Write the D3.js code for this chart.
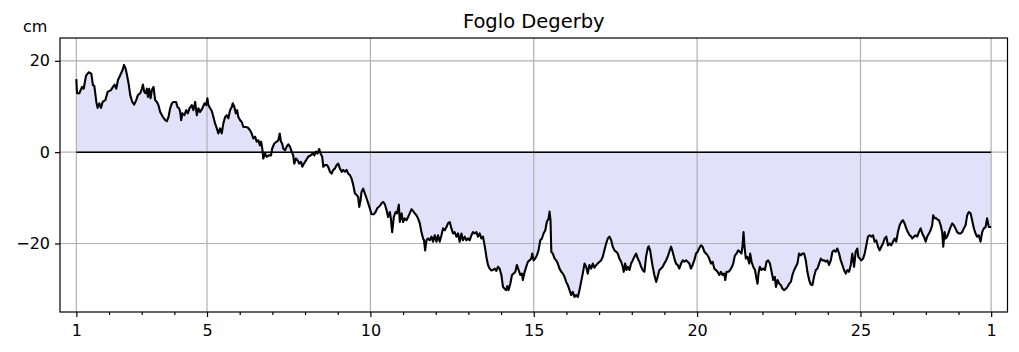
<!DOCTYPE html>
<html><head><meta charset="utf-8">
<script src="https://cdn.jsdelivr.net/npm/d3@7"></script>
<style>
body{margin:0;background:#fff}
svg{display:block}
text{font-family:"DejaVu Sans",sans-serif;fill:#000}
</style>
</head><body>
<svg id="chart" width="1019" height="352"></svg>
<script>
const chartTitle = "Foglo Degerby";
const unitLabel = "cm";
// hours since the 1st of the month, 00:00
const hours = [
0,0.5,2.2,4.2,5.4,7.1,9.0,11.0,12.2,13.2,
14.7,15.6,16.9,18.1,19.3,21.3,23.0,25.4,26.9,28.1,
29.3,30.6,32.3,34.0,35.0,36.2,37.2,38.4,39.6,41.1,
42.5,44.0,45.2,46.9,48.2,48.9,49.9,50.8,51.8,52.6,
53.5,54.5,55.5,56.7,57.9,59.2,60.3,61.6,63.6,65.3,
66.5,67.7,68.9,70.2,71.3,73.3,74.3,75.5,76.3,77.0,
77.9,79.4,80.7,81.9,83.1,84.8,86.0,87.3,88.5,89.7,
90.9,92.6,94.1,95.3,96.3,97.0,98.3,99.5,100.7,101.9,
103.2,104.3,105.6,106.8,108.0,109.3,110.5,111.7,112.9,114.2,
114.9,116.1,117.1,118.1,119.0,120.3,121.5,122.7,124.4,125.9,
127.6,128.8,130.0,131.3,132.5,133.7,134.9,135.7,136.6,137.3,
138.6,139.8,141.5,143.0,143.9,145.4,147.2,148.4,149.4,150.3,
151.2,152.0,153.3,154.5,155.7,156.9,158.2,159.3,160.1,161.3,
162.6,163.7,165.0,166.0,167.2,168.7,170.3,172.1,173.6,174.8,
176.0,177.2,178.4,179.4,180.6,181.4,182.6,183.9,185.0,186.3,
187.5,188.7,189.9,191.2,192.4,193.6,194.9,196.0,197.3,198.5,
199.7,200.9,202.2,203.4,204.6,205.9,207.0,207.8,208.8,209.5,
210.7,211.9,213.2,214.4,215.6,216.8,218.5,219.8,221.0,222.9,
224.2,225.3,226.6,227.9,229.0,230.3,231.0,232.0,233.2,234.5,
235.6,236.9,237.6,238.9,240.0,241.3,242.5,243.7,244.9,246.2,
247.4,248.6,249.8,251.0,252.3,253.5,254.7,255.4,256.2,257.2,
258.4,259.6,260.9,262.0,263.3,264.5,265.7,266.9,268.2,269.4,
270.6,271.9,273.0,274.3,275.5,276.7,277.9,279.2,280.4,281.6,
282.9,284.0,285.3,286.5,287.7,288.9,290.2,291.4,292.6,293.9,
295.0,296.3,297.5,298.7,299.4,300.5,301.4,302.4,303.6,304.9,
306.0,307.3,308.5,309.7,310.9,312.2,313.4,314.6,315.8,316.6,
317.5,318.8,320.0,321.2,322.5,323.6,324.9,326.1,327.3,328.0,
329.3,330.5,331.7,332.9,334.2,334.9,335.9,337.1,338.3,339.5,
340.8,342.0,343.2,344.5,345.6,346.9,347.6,348.3,348.9,350.0,
351.3,352.5,353.7,354.9,356.2,357.4,358.6,359.8,361.0,362.3,
363.5,364.7,365.9,367.2,368.4,369.6,370.8,372.0,373.3,374.5,
375.7,376.9,378.2,379.4,380.6,381.9,383.0,384.3,385.5,386.7,
387.9,389.2,390.4,391.6,392.9,394.0,395.3,396.5,397.7,398.9,
400.2,401.4,402.1,403.1,404.1,405.0,406.3,407.5,408.7,409.9,
411.2,412.4,413.6,414.9,416.0,417.3,418.5,419.7,420.4,421.5,
422.2,423.4,424.6,425.9,427.0,428.3,429.5,430.7,431.9,433.2,
434.4,435.6,436.9,438.0,439.3,440.5,441.7,442.9,444.2,445.4,
446.6,447.9,449.0,450.3,451.5,452.7,453.9,455.2,456.4,457.6,
458.9,460.0,461.3,462.5,463.7,464.9,466.2,467.4,468.6,469.8,
471.0,472.3,473.5,474.7,475.9,476.7,477.6,479.1,480.3,481.6,
482.5,483.8,485.0,486.2,487.4,488.6,489.4,490.1,490.8,491.8,
493.0,494.3,495.0,496.0,497.2,498.5,499.6,500.4,501.1,502.1,
503.3,504.6,505.8,507.0,508.2,509.5,510.7,511.9,513.1,513.9,
515.1,516.3,517.5,518.7,519.9,521.2,522.4,523.6,524.9,526.0,
527.3,528.5,529.7,530.9,532.2,533.4,534.6,535.9,537.0,538.3,
539.5,540.7,541.9,543.2,544.4,545.6,546.9,548.0,549.3,550.5,
551.7,552.9,554.2,555.4,556.6,557.8,559.0,560.3,561.5,562.7,
563.9,565.2,566.4,567.6,568.9,570.0,571.3,572.5,573.7,574.4,
575.5,576.6,577.9,579.1,580.3,581.5,582.8,584.0,585.2,586.4,
587.6,588.9,590.1,591.3,592.5,593.8,595.0,596.2,597.4,598.6,
599.9,601.1,602.3,603.5,604.8,606.0,607.2,608.4,609.6,610.8,
612.1,613.3,614.0,615.3,616.5,617.7,618.9,620.2,621.4,622.6,
623.9,625.0,626.3,627.5,628.7,629.4,630.5,631.4,632.4,633.6,
634.9,636.0,636.8,637.8,638.7,639.7,640.9,642.2,643.4,644.6,
645.8,647.0,648.3,649.5,650.7,651.9,653.2,654.4,655.6,656.9,
658.0,659.3,660.5,661.7,662.9,664.2,665.4,666.6,667.9,669.0,
670.3,672
];
const levelCm = [
16.0,12.9,12.9,14.3,13.9,16.7,17.5,17.2,14.7,14.5,
11.0,9.7,10.7,9.7,11.0,11.4,13.2,13.6,14.3,14.8,
13.9,15.8,16.9,18.0,19.1,18.3,16.9,15.0,12.5,11.0,
10.4,11.4,12.5,12.9,13.9,14.8,13.2,12.9,13.9,12.1,
13.9,11.8,13.6,14.3,11.4,11.0,10.3,8.8,7.7,7.0,
6.8,7.7,9.6,10.7,11.0,11.0,9.9,9.6,8.8,7.0,
8.5,8.1,9.2,8.5,9.6,10.3,9.2,11.0,8.1,9.6,
8.8,9.6,10.7,10.3,11.8,10.3,9.6,9.0,7.7,6.3,
5.2,4.1,5.2,4.1,6.3,7.7,8.1,7.4,9.2,9.9,
10.7,9.9,8.5,9.2,7.7,7.0,6.6,5.5,5.5,5.4,
4.8,4.1,3.0,3.4,2.3,2.6,1.5,2.3,0.8,-1.4,
-0.3,-1.0,-0.7,-0.7,0.8,1.9,2.3,2.6,4.1,2.3,
1.9,0.8,0.4,1.2,1.7,1.2,0.1,-0.7,-2.5,-1.4,
-1.8,-2.5,-2.1,-3.2,-2.5,-1.8,-1.0,-0.7,-0.3,-0.7,
0.1,-0.3,0.7,-0.3,-1.0,-3.2,-2.8,-2.8,-3.2,-4.3,
-4.7,-3.9,-3.6,-2.8,-2.5,-3.6,-4.3,-3.9,-4.3,-3.9,
-4.7,-5.0,-5.8,-7.2,-9.0,-9.4,-9.8,-12.0,-10.5,-8.7,
-8.0,-9.0,-10.1,-11.2,-12.3,-13.6,-13.6,-13.1,-12.3,-11.8,
-11.2,-10.9,-11.4,-12.7,-14.2,-13.1,-14.5,-17.5,-14.2,-13.1,
-13.4,-11.5,-15.3,-13.4,-15.3,-14.5,-14.9,-14.2,-13.4,-12.5,
-12.9,-13.4,-13.8,-14.5,-15.6,-17.5,-18.9,-19.3,-21.5,-19.3,
-18.9,-19.3,-18.5,-19.6,-18.2,-19.6,-18.2,-19.6,-18.2,-16.7,
-17.1,-16.4,-15.6,-15.3,-16.7,-17.8,-17.5,-18.5,-17.8,-19.6,
-17.8,-19.3,-18.5,-19.3,-18.9,-19.3,-18.2,-17.5,-17.8,-17.5,
-18.5,-17.8,-18.9,-18.5,-19.6,-21.5,-23.3,-24.7,-25.5,-25.9,
-25.8,-25.5,-26.0,-25.1,-25.5,-26.9,-29.5,-29.9,-30.2,-29.3,
-30.2,-28.8,-26.9,-26.6,-26.2,-24.7,-25.8,-26.9,-26.6,-28.0,
-26.2,-25.1,-24.0,-23.7,-23.3,-22.2,-23.7,-23.3,-22.6,-21.5,
-19.3,-18.9,-17.8,-17.1,-15.3,-14.5,-13.0,-14.9,-21.8,-22.2,
-23.3,-23.7,-24.4,-25.5,-26.2,-26.6,-27.3,-28.4,-29.1,-30.2,
-31.3,-30.6,-31.7,-31.3,-31.7,-30.2,-28.4,-26.6,-24.4,-25.1,
-26.6,-24.7,-25.5,-24.4,-25.3,-24.7,-24.4,-24.0,-23.7,-22.9,
-21.5,-20.0,-18.9,-18.5,-19.3,-20.7,-21.5,-21.8,-22.2,-23.3,
-24.0,-25.1,-26.2,-24.4,-25.8,-25.1,-25.8,-24.4,-23.7,-22.9,
-22.2,-23.3,-24.0,-25.1,-25.8,-26.2,-22.9,-21.1,-20.6,-21.5,
-22.9,-25.1,-26.9,-28.4,-27.3,-25.8,-25.5,-25.1,-24.4,-23.7,
-22.9,-21.8,-20.7,-21.8,-23.3,-24.4,-24.7,-25.5,-24.4,-23.7,
-24.0,-23.7,-24.0,-24.4,-25.5,-24.7,-23.7,-22.2,-21.8,-21.0,
-20.4,-20.7,-21.8,-22.2,-22.6,-23.3,-24.4,-24.0,-25.5,-25.8,
-26.2,-26.9,-26.2,-26.9,-26.6,-28.0,-26.2,-26.2,-25.8,-25.1,
-24.4,-22.6,-22.2,-21.5,-21.8,-22.2,-20.4,-17.5,-20.7,-23.3,
-22.9,-24.4,-22.2,-24.0,-25.1,-25.8,-27.7,-28.8,-26.6,-25.1,
-25.8,-25.5,-25.8,-24.0,-23.7,-24.4,-26.2,-28.0,-27.3,-29.5,
-28.0,-28.8,-29.1,-29.9,-30.2,-29.9,-29.5,-28.8,-28.4,-26.9,
-25.8,-25.1,-24.4,-22.2,-22.6,-22.2,-22.2,-23.8,-26.2,-28.0,
-29.0,-29.1,-27.3,-25.8,-25.5,-24.4,-23.3,-23.7,-23.7,-24.0,
-23.7,-24.7,-23.7,-21.8,-21.5,-21.8,-21.1,-22.2,-23.7,-24.7,
-25.8,-26.6,-25.8,-26.2,-24.7,-22.2,-25.1,-21.8,-21.1,-22.9,
-23.3,-23.7,-23.3,-22.2,-20.4,-18.5,-18.2,-18.5,-18.2,-19.6,
-19.3,-20.7,-21.5,-20.7,-20.0,-18.9,-18.5,-20.4,-20.0,-20.4,
-19.6,-18.9,-19.6,-17.5,-16.0,-15.3,-14.9,-15.6,-16.7,-17.5,
-18.2,-18.5,-18.9,-18.5,-18.2,-18.5,-17.5,-16.7,-17.8,-18.5,
-19.6,-18.5,-17.8,-17.1,-16.0,-13.8,-14.5,-14.4,-14.7,-14.9,
-16.0,-17.5,-20.7,-17.5,-18.9,-18.5,-17.5,-16.4,-15.6,-16.0,
-16.7,-17.5,-17.8,-17.8,-17.5,-16.7,-16.0,-13.8,-13.1,-13.4,
-14.9,-16.7,-17.8,-18.5,-18.2,-19.6,-17.5,-16.7,-16.4,-14.5,
-16.4,-16.4
];
const xTickHours = [0, 96, 216, 336, 456, 576, 672];
const xTickLabels = ["1", "5", "10", "15", "20", "25", "1"];
const xMinorHours = d3.range(0, 673, 24);
const yTicks = [-20, 0, 20];
const xDomain = [-12, 684];
const yDomain = [-35, 25];

const n = Math.min(hours.length, levelCm.length);
const data = d3.range(n).map(i => ({h: hours[i], v: levelCm[i]}));

const svg = d3.select("#chart");
const W = 1019, H = 352;
const m = {left: 60, right: 11.5, top: 38, bottom: 40};
const x = d3.scaleLinear().domain(xDomain).range([m.left, W - m.right]);
const y = d3.scaleLinear().domain(yDomain).range([H - m.bottom, m.top]);

const plot = svg.append("g");
plot.append("clipPath").attr("id", "clip").append("rect")
  .attr("x", m.left).attr("y", m.top)
  .attr("width", W - m.left - m.right).attr("height", H - m.top - m.bottom);

// fill between series and zero
plot.append("path").datum(data)
  .attr("clip-path", "url(#clip)")
  .attr("fill", "#e1e1fa")
  .attr("d", d3.area().x(d => x(d.h)).y0(y(0)).y1(d => y(d.v)));

// grid
const grid = plot.append("g").attr("stroke", "#b0b0b0").attr("stroke-width", 1.2);
grid.selectAll(".gx").data(xTickHours).join("line")
  .attr("x1", d => x(d)).attr("x2", d => x(d))
  .attr("y1", m.top).attr("y2", H - m.bottom);
grid.selectAll(".gy").data(yTicks).join("line")
  .attr("x1", m.left).attr("x2", W - m.right)
  .attr("y1", d => y(d)).attr("y2", d => y(d));

// zero line across the data span
plot.append("line")
  .attr("x1", x(hours[0])).attr("x2", x(hours[n - 1]))
  .attr("y1", y(0)).attr("y2", y(0))
  .attr("stroke", "#000").attr("stroke-width", 1.5);

// series line
plot.append("path").datum(data)
  .attr("clip-path", "url(#clip)")
  .attr("fill", "none").attr("stroke", "#000")
  .attr("stroke-width", 2.1).attr("stroke-linejoin", "round")
  .attr("d", d3.line().x(d => x(d.h)).y(d => y(d.v)));

// frame
svg.append("rect")
  .attr("x", m.left).attr("y", m.top)
  .attr("width", W - m.left - m.right).attr("height", H - m.top - m.bottom)
  .attr("fill", "none").attr("stroke", "#000").attr("stroke-width", 1.2);

// axes
const fmtY = d => d < 0 ? "\u2212" + Math.abs(d) : String(d);
const xAxis = svg.append("g").attr("transform", `translate(0,${H - m.bottom})`)
  .call(d3.axisBottom(x).tickValues(xTickHours).tickFormat((d, i) => xTickLabels[i])
    .tickSize(5).tickPadding(8));
const xMinor = svg.append("g").attr("transform", `translate(0,${H - m.bottom})`)
  .call(d3.axisBottom(x).tickValues(xMinorHours.filter(h => !xTickHours.includes(h)))
    .tickFormat("").tickSize(3));
const yAxis = svg.append("g").attr("transform", `translate(${m.left},0)`)
  .call(d3.axisLeft(y).tickValues(yTicks).tickFormat(fmtY).tickSize(5).tickPadding(5));
[xAxis, xMinor, yAxis].forEach(g => {
  g.select(".domain").remove();
  g.selectAll("line").attr("stroke", "#000").attr("stroke-width", 1.2);
  g.selectAll("text").attr("font-size", "16px").attr("font-family", "DejaVu Sans").attr("fill", "#000");
});

// title & unit
svg.append("text").attr("x", (m.left + W - m.right) / 2).attr("y", 28)
  .attr("text-anchor", "middle").attr("font-size", "19.5px").text(chartTitle);
svg.append("text").attr("x", 23).attr("y", 32)
  .attr("font-size", "16px").text(unitLabel);
</script>
</body></html>
